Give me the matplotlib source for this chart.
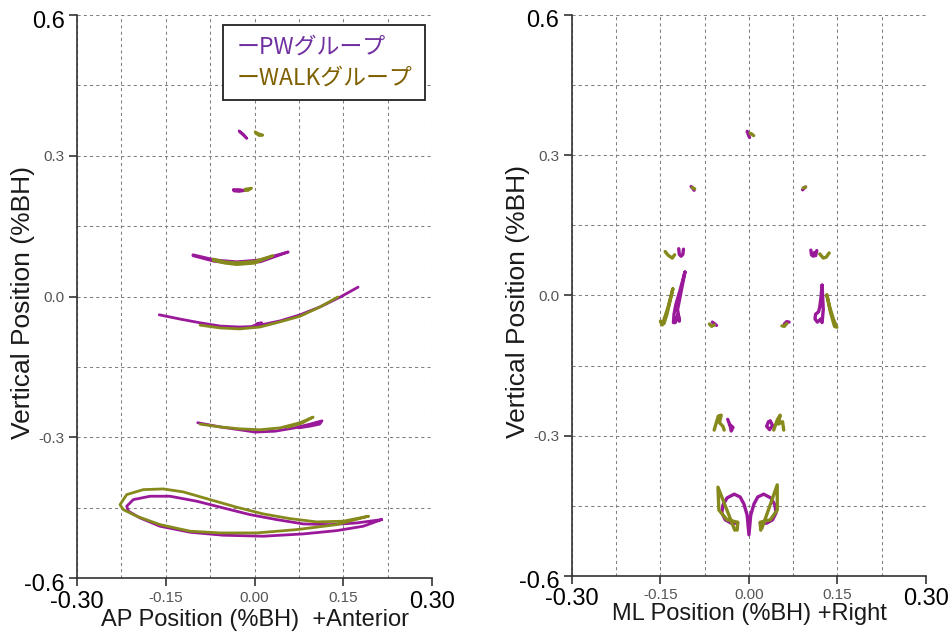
import matplotlib
matplotlib.use("Agg")
import matplotlib.pyplot as plt
from matplotlib.ticker import MultipleLocator
from matplotlib.patches import Rectangle
from matplotlib.transforms import ScaledTranslation

plt.rcParams['font.family'] = ['Liberation Sans', 'DejaVu Sans']

PW_COLOR = '#99199a'
WALK_COLOR = '#868a1c'

# AP view (sagittal) trajectories, one list per marker
ap_pw_x = [
    [-0.026, -0.019, -0.013, -0.018, -0.025],
    [-0.036, -0.026, -0.016, -0.026, -0.035],
    [-0.104, -0.067, -0.030, 0.009, 0.057, 0.010, -0.030, -0.068, -0.104],
    [-0.161, -0.126, -0.092, -0.058, -0.025, -0.005, 0.012, 0.004, 0.009, 0.043, 0.077, 0.111, 0.145, 0.175],
    [-0.096, -0.058, -0.025, 0.001, 0.035, 0.068, 0.094, 0.114, 0.110, 0.095, 0.075],
    [0.2149, 0.1727, 0.1276, 0.0824, 0.0375, -0.0076, -0.0528, -0.0977, -0.1428, -0.1766, -0.2049, -0.2160,
     -0.2133, -0.1935, -0.1597, -0.1090, -0.0528, 0.0148, 0.0824, 0.1389, 0.1838, 0.2149],
]
ap_pw_y = [
    [0.353, 0.346, 0.337, 0.343, 0.351],
    [0.228, 0.228, 0.226, 0.224, 0.225],
    [0.089, 0.078, 0.074, 0.078, 0.095, 0.074, 0.070, 0.075, 0.087],
    [-0.039, -0.048, -0.056, -0.063, -0.065, -0.064, -0.056, -0.058, -0.061, -0.052, -0.039, -0.022, -0.001, 0.020],
    [-0.269, -0.278, -0.284, -0.289, -0.287, -0.280, -0.272, -0.265, -0.272, -0.276, -0.280],
    [-0.4755, -0.4826, -0.4862, -0.4847, -0.4755, -0.4649, -0.4506, -0.4363, -0.4257, -0.4257, -0.4329, -0.4470,
     -0.4576, -0.4719, -0.4896, -0.5024, -0.5088, -0.5109, -0.5060, -0.4990, -0.4896, -0.4755],
]
ap_walk_x = [
    [0.001, 0.007, 0.014, 0.008, 0.002],
    [-0.016, -0.010, -0.005, -0.011, -0.016],
    [-0.070, -0.050, -0.030, 0.000, 0.031, 0.000, -0.030, -0.050, -0.070],
    [-0.092, -0.058, -0.025, 0.009, 0.043, 0.077, 0.111, 0.141],
    [-0.092, -0.058, -0.025, 0.009, 0.043, 0.077, 0.099, 0.080, 0.055],
    [0.1923, 0.1500, 0.1051, 0.0600, 0.0148, -0.0301, -0.0752, -0.1204, -0.1542, -0.1880, -0.2160, -0.2273,
     -0.2218, -0.1991, -0.1597, -0.1090, -0.0583, 0.0037, 0.0713, 0.1389, 0.1923],
]
ap_walk_y = [
    [0.351, 0.347, 0.344, 0.343, 0.348],
    [0.229, 0.230, 0.231, 0.226, 0.226],
    [0.080, 0.074, 0.072, 0.075, 0.087, 0.071, 0.068, 0.071, 0.077],
    [-0.061, -0.067, -0.069, -0.065, -0.054, -0.042, -0.022, -0.001],
    [-0.272, -0.278, -0.282, -0.284, -0.280, -0.269, -0.257, -0.270, -0.279],
    [-0.4683, -0.4789, -0.4804, -0.4734, -0.4634, -0.4491, -0.4329, -0.4165, -0.4101, -0.4116, -0.4222, -0.4436,
     -0.4542, -0.4683, -0.4862, -0.5002, -0.5039, -0.5039, -0.4968, -0.4862, -0.4683],
]

# ML view (frontal) trajectories
ml_pw_x = [
    [-0.003, -0.001, 0.001],
    [-0.098, -0.095, -0.093],
    [0.091, 0.093, 0.096],
    [-0.119, -0.118, -0.115, -0.112, -0.111],
    [0.105, 0.106, 0.109, 0.111, 0.113, 0.115],
    [-0.1085, -0.117, -0.124, -0.127, -0.128, -0.125, -0.120, -0.118, -0.121, -0.1085],
    [0.124, 0.122, 0.120, 0.118, 0.113, 0.112, 0.116, 0.122, 0.124, 0.126, 0.124],
    [-0.062, -0.058, -0.055],
    [0.060, 0.064, 0.068],
    [-0.036, -0.032, -0.030, -0.027, -0.033],
    [0.033, 0.030, 0.035, 0.040, 0.036],
    [-0.019, -0.030, -0.040, -0.046, -0.044, -0.037, -0.025, -0.015, -0.0085, -0.003, 0.0,
     0.003, 0.0085, 0.015, 0.025, 0.037, 0.044, 0.046, 0.040, 0.030, 0.019],
]
ml_pw_y = [
    [0.351, 0.344, 0.338],
    [0.233, 0.229, 0.225],
    [0.226, 0.229, 0.232],
    [0.100, 0.088, 0.084, 0.088, 0.099],
    [0.097, 0.087, 0.084, 0.092, 0.085, 0.096],
    [0.050, 0.010, -0.020, -0.040, -0.058, -0.058, -0.040, -0.055, -0.030, 0.050],
    [0.022, -0.005, -0.025, -0.035, -0.040, -0.050, -0.057, -0.050, -0.058, -0.030, 0.022],
    [-0.057, -0.061, -0.064],
    [-0.061, -0.056, -0.057],
    [-0.265, -0.278, -0.290, -0.282, -0.276],
    [-0.270, -0.280, -0.287, -0.278, -0.268],
    [-0.487, -0.487, -0.480, -0.465, -0.448, -0.433, -0.425, -0.431, -0.446, -0.470, -0.512,
     -0.470, -0.446, -0.431, -0.425, -0.433, -0.448, -0.465, -0.480, -0.487, -0.487],
]
ml_walk_x = [
    [0.002, 0.005, 0.008],
    [-0.096, -0.092],
    [0.092, 0.096],
    [-0.142, -0.137, -0.130, -0.126],
    [0.120, 0.126, 0.131, 0.136],
    [-0.129, -0.137, -0.147, -0.150, -0.144, -0.139, -0.129],
    [0.132, 0.137, 0.143, 0.149, 0.145, 0.138, 0.132],
    [-0.067, -0.063, -0.059],
    [0.056, 0.060, 0.064],
    [-0.059, -0.052, -0.047, -0.050, -0.044, -0.042],
    [0.042, 0.048, 0.053, 0.050, 0.057, 0.059],
    [-0.020, -0.019, -0.037, -0.051, -0.0525, -0.024],
    [0.020, 0.019, 0.036, 0.048, 0.048, 0.022],
]
ml_walk_y = [
    [0.347, 0.345, 0.342],
    [0.231, 0.228],
    [0.230, 0.232],
    [0.094, 0.086, 0.080, 0.087],
    [0.089, 0.080, 0.082, 0.091],
    [0.014, -0.025, -0.063, -0.055, -0.060, -0.040, 0.014],
    [0.001, -0.025, -0.050, -0.068, -0.066, -0.035, 0.001],
    [-0.061, -0.066, -0.063],
    [-0.065, -0.066, -0.060],
    [-0.288, -0.258, -0.256, -0.272, -0.280, -0.288],
    [-0.288, -0.266, -0.256, -0.275, -0.270, -0.288],
    [-0.502, -0.485, -0.480, -0.459, -0.410, -0.502],
    [-0.502, -0.485, -0.480, -0.459, -0.405, -0.498],
]

x_ticks = [-0.30, -0.15, 0.00, 0.15, 0.30]
x_labels = ['-0.30', '-0.15', '0.00', '0.15', '0.30']
y_ticks = [-0.6, -0.3, 0.0, 0.3, 0.6]
y_labels = ['-0.6', '-0.3', '0.0', '0.3', '0.6']

legend_labels = ['ーPWグループ', 'ーWALKグループ']
legend_colors = ['#7030a0', '#7f6000']


def draw_panel(ax, pw_x, pw_y, walk_x, walk_y, xlabel, xlab_y, lw):
    for xs, ys in zip(pw_x, pw_y):
        ax.plot(xs, ys, color=PW_COLOR, lw=lw, solid_capstyle='round', solid_joinstyle='round')
    for xs, ys in zip(walk_x, walk_y):
        ax.plot(xs, ys, color=WALK_COLOR, lw=lw, solid_capstyle='round', solid_joinstyle='round')

    ax.set_xlim(-0.3, 0.3)
    ax.set_ylim(-0.6, 0.6)
    ax.set_xticks(x_ticks)
    ax.set_xticklabels(x_labels)
    ax.set_yticks(y_ticks)
    ax.set_yticklabels(y_labels)
    ax.xaxis.set_minor_locator(MultipleLocator(0.075))
    ax.yaxis.set_minor_locator(MultipleLocator(0.15))
    ax.tick_params(which='minor', length=0)
    ax.tick_params(which='major', length=6, width=1.2, color='#333333', pad=3)
    ax.grid(which='both', color='#808080', linestyle=(0, (3, 3)), lw=0.75)
    ax.set_axisbelow(True)

    for s in ['top', 'right']:
        ax.spines[s].set_visible(False)
    for s in ['left', 'bottom']:
        ax.spines[s].set_color('#333333')
        ax.spines[s].set_linewidth(1.2)

    for lab_list in [ax.get_xticklabels(), ax.get_yticklabels()]:
        for i, lab in enumerate(lab_list):
            if i in (0, len(lab_list) - 1):
                lab.set_fontsize(17)
                lab.set_color('black')
            else:
                lab.set_fontsize(11)
                lab.set_color('#555555')
    ylabs = ax.get_yticklabels()
    shift = ScaledTranslation(0, -4 / 100, ax.figure.dpi_scale_trans)
    ylabs[0].set_transform(ylabs[0].get_transform() + shift)
    ylabs[-1].set_transform(ylabs[-1].get_transform() + shift)

    ax.set_xlabel(xlabel, fontsize=17, color='#1a1a1a')
    ax.xaxis.set_label_coords(0.5, xlab_y)
    ax.set_ylabel('Vertical Position (%BH)', fontsize=19, color='#1a1a1a')
    ax.yaxis.set_label_coords(-0.118, 0.49)


fig = plt.figure(figsize=(9.52, 6.37), dpi=100)
ax1 = fig.add_axes([0.0809, 0.0926, 0.3729, 0.8838])
ax2 = fig.add_axes([0.6008, 0.0958, 0.3718, 0.8807])

draw_panel(ax1, ap_pw_x, ap_pw_y, ap_walk_x, ap_walk_y, 'AP Position (%BH)  +Anterior', -0.055, 2.0)
draw_panel(ax2, ml_pw_x, ml_pw_y, ml_walk_x, ml_walk_y, 'ML Position (%BH) +Right', -0.048, 2.4)

# legend box drawn by hand
ax1.add_patch(Rectangle((0.411, 0.849), 0.570, 0.133, transform=ax1.transAxes,
                        facecolor='white', edgecolor='#222222', lw=1.3, zorder=5))
for i, (txt, col) in enumerate(zip(legend_labels, legend_colors)):
    ax1.text(0.451, 0.943 - i * 0.055, txt, transform=ax1.transAxes, color=col,
             fontsize=16.5, va='center', ha='left', zorder=6,
             family=['Noto Sans CJK JP', 'DejaVu Sans'])

fig.savefig('out.png', dpi=100)
